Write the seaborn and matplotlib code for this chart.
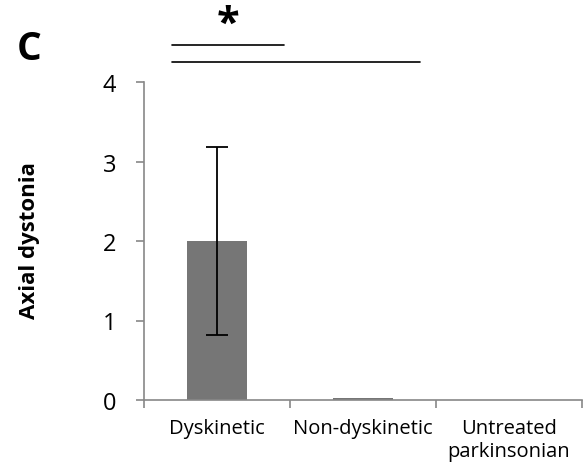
import matplotlib
matplotlib.use("Agg")
import matplotlib.pyplot as plt
import seaborn as sns
import pandas as pd

categories = ["Dyskinetic", "Non-dyskinetic", "Untreated\nparkinsonian"]
means = [2.0, 0.02, 0.0]
errors = [1.18, 0.0, 0.0]
yticks = [0, 1, 2, 3, 4]

sns.set_theme(style="white")
plt.rcParams['font.family'] = ['Open Sans', 'DejaVu Sans']
plt.rcParams['text.color'] = 'black'
plt.rcParams['axes.labelcolor'] = 'black'
plt.rcParams['xtick.labelcolor'] = 'black'
plt.rcParams['ytick.labelcolor'] = 'black'

df = pd.DataFrame({"group": categories, "value": means})

fig = plt.figure(figsize=(5.83, 4.77), dpi=100)
ax = fig.add_axes([144/583, 1-401/477, (582-144)/583, (401-83)/477])

sns.barplot(data=df, x="group", y="value", color="#767676", saturation=1,
            width=0.41, errorbar=None, linewidth=0, ax=ax)
ax.errorbar([0], means[:1], yerr=errors[:1], fmt="none",
            ecolor="black", elinewidth=1.3, capsize=8, capthick=1.3)

ax.set_xlim(-0.5, 2.5)
ax.set_ylim(0, 4)
ax.set_yticks(yticks)
ax.set_yticklabels([str(t) for t in yticks], fontsize=17, color="black")
ax.set_xticks([-0.5, 0.5, 1.5, 2.5], minor=True)
ax.set_xticks(range(len(categories)))
ax.set_xticklabels(categories, fontsize=14.5, linespacing=1.2, color="black")
ax.tick_params(axis="x", which="major", length=0, pad=13)
ax.tick_params(axis="x", which="minor", length=6, color="#888888", width=1.2, direction="out", bottom=True)
ax.tick_params(axis="y", length=6, color="#888888", width=1.2, direction="out", left=True, pad=14)
for s in ["top", "right"]:
    ax.spines[s].set_visible(False)
for s in ["left", "bottom"]:
    ax.spines[s].set_color("#888888")
    ax.spines[s].set_linewidth(1.2)
ax.set_xlabel("")
ax.set_ylabel("Axial dystonia", fontsize=16, fontweight="bold", color="black")
ax.yaxis.set_label_coords((40-144)/438, 0.506)

# significance markers
ax.plot([-0.31, 0.46], [4.47, 4.47], color="black", lw=1.2, clip_on=False)
ax.plot([-0.31, 1.39], [4.25, 4.25], color="black", lw=1.2, clip_on=False)
ax.text(0.075, 4.72, "*", ha="center", va="center", fontsize=30, fontweight="bold", clip_on=False)

fig.text(17/583, 1-50/477, "C", fontsize=28, fontweight="bold", va="center", ha="left")

fig.savefig("out.png", dpi=100)
